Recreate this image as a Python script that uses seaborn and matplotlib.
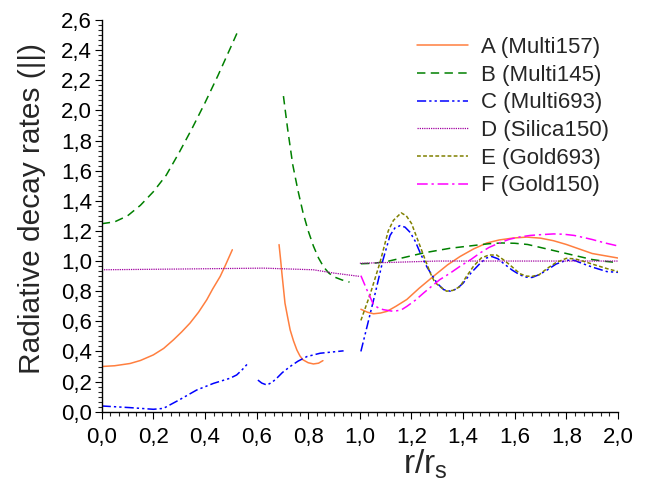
import numpy as np
import matplotlib
matplotlib.use("Agg")
import matplotlib.pyplot as plt
from matplotlib.ticker import MultipleLocator, AutoMinorLocator, FuncFormatter
import seaborn as sns

# ---------------- data ----------------
# A (Multi157) - three segments
a1_x = [0.0, 0.05, 0.11, 0.15, 0.2, 0.24, 0.278, 0.31, 0.342, 0.375, 0.407, 0.43, 0.459, 0.48, 0.506]
a1_y = [0.30, 0.305, 0.32, 0.34, 0.377, 0.42, 0.477, 0.53, 0.588, 0.66, 0.743, 0.815, 0.898, 0.975, 1.075]
a2_x = [0.687, 0.693, 0.698, 0.704, 0.71, 0.72, 0.73, 0.743, 0.756, 0.768, 0.78, 0.80, 0.82, 0.84, 0.857]
a2_y = [1.109, 1.01, 0.92, 0.82, 0.72, 0.63, 0.543, 0.47, 0.41, 0.37, 0.344, 0.325, 0.317, 0.322, 0.339]
a3_x = [1.004, 1.03, 1.053, 1.08, 1.105, 1.14, 1.182, 1.23, 1.286, 1.34, 1.388, 1.44, 1.492, 1.54,
        1.595, 1.647, 1.70, 1.75, 1.80, 1.85, 1.9, 1.95, 2.0]
a3_y = [0.68, 0.66, 0.65, 0.655, 0.666, 0.70, 0.745, 0.82, 0.90, 0.975, 1.03, 1.08, 1.12, 1.14,
        1.153, 1.159, 1.152, 1.135, 1.11, 1.08, 1.05, 1.035, 1.02]

# B (Multi145)
b1_x = [0.0, 0.05, 0.1, 0.15, 0.2, 0.25, 0.3, 0.35, 0.4, 0.45, 0.5, 0.526]
b1_y = [1.248, 1.26, 1.30, 1.37, 1.46, 1.57, 1.72, 1.88, 2.05, 2.23, 2.42, 2.52]
b2_x = [0.704, 0.72, 0.74, 0.76, 0.78, 0.80, 0.82, 0.84, 0.86, 0.88, 0.90, 0.93, 0.96]
b2_y = [2.095, 1.88, 1.64, 1.47, 1.32, 1.20, 1.10, 1.02, 0.96, 0.92, 0.895, 0.875, 0.86]
b3_x = [1.004, 1.05, 1.1, 1.15, 1.2, 1.25, 1.3, 1.35, 1.4, 1.45, 1.5, 1.55, 1.6, 1.65, 1.7,
        1.75, 1.8, 1.85, 1.9, 1.95, 2.0]
b3_y = [0.982, 0.985, 0.995, 1.015, 1.035, 1.055, 1.07, 1.085, 1.095, 1.105, 1.115, 1.12, 1.118,
        1.11, 1.09, 1.07, 1.05, 1.03, 1.01, 0.998, 0.99]

# C (Multi693)
c1_x = [0.0, 0.11, 0.2, 0.239, 0.30, 0.368, 0.433, 0.497, 0.523, 0.545, 0.566]
c1_y = [0.038, 0.027, 0.016, 0.022, 0.078, 0.144, 0.188, 0.222, 0.244, 0.28, 0.32]
c2_x = [0.605, 0.62, 0.64, 0.66, 0.678, 0.70, 0.73, 0.76, 0.795, 0.846, 0.937]
c2_y = [0.21, 0.19, 0.177, 0.195, 0.222, 0.26, 0.30, 0.335, 0.366, 0.388, 0.404]
c3_x = [1.004, 1.03, 1.06, 1.09, 1.117, 1.136, 1.156, 1.175, 1.195, 1.215, 1.234, 1.26, 1.299,
        1.325, 1.35, 1.375, 1.40, 1.43, 1.466, 1.49, 1.511, 1.535, 1.556, 1.59, 1.62, 1.645,
        1.667, 1.695, 1.725, 1.76, 1.8, 1.83, 1.86, 1.9, 1.957, 2.0]
c3_y = [0.40, 0.58, 0.79, 1.01, 1.17, 1.22, 1.235, 1.225, 1.19, 1.13, 1.053, 0.96, 0.853,
        0.81, 0.80, 0.815, 0.853, 0.92, 0.985, 1.02, 1.03, 1.015, 0.985, 0.94, 0.908, 0.893,
        0.891, 0.91, 0.94, 0.98, 1.005, 1.005, 0.985, 0.96, 0.93, 0.925]

# D (Silica150)
d1_x = [0.0, 0.3, 0.627, 0.82, 0.9, 1.0]
d1_y = [0.942, 0.947, 0.953, 0.942, 0.92, 0.898]
d2_x = [1.0, 1.1, 1.2, 1.3, 1.5, 2.0]
d2_y = [0.985, 0.99, 0.995, 1.0, 1.0, 1.0]

# E (Gold693)
e_x = [1.004, 1.04, 1.078, 1.11, 1.13, 1.16, 1.18, 1.2, 1.234, 1.255, 1.273, 1.29, 1.31, 1.336,
       1.36, 1.388, 1.41, 1.44, 1.47, 1.5, 1.53, 1.555, 1.58, 1.62, 1.645, 1.667, 1.695, 1.725,
       1.76, 1.8, 1.83, 1.85, 1.9, 1.957, 2.0]
e_y = [0.606, 0.78, 0.99, 1.2, 1.27, 1.32, 1.30, 1.25, 1.096, 1.0, 0.92, 0.86, 0.83, 0.80,
       0.805, 0.83, 0.89, 0.965, 1.02, 1.04, 1.04, 1.01, 0.976, 0.916, 0.9, 0.898, 0.91, 0.95,
       0.99, 1.018, 1.015, 1.007, 0.98, 0.95, 0.93]

# F (Gold150)
f_x = [1.004, 1.027, 1.053, 1.075, 1.092, 1.13, 1.16, 1.182, 1.215, 1.247, 1.28, 1.31, 1.35,
       1.388, 1.43, 1.466, 1.5, 1.54, 1.58, 1.62, 1.66, 1.7, 1.75, 1.79, 1.83, 1.87, 1.9, 1.95, 2.0]
f_y = [0.903, 0.81, 0.71, 0.685, 0.677, 0.666, 0.675, 0.699, 0.74, 0.788, 0.835, 0.877, 0.92,
       0.965, 1.01, 1.054, 1.09, 1.12, 1.145, 1.16, 1.17, 1.175, 1.18, 1.178, 1.17, 1.155,
       1.143, 1.12, 1.10]

labels = ["A (Multi157)", "B (Multi145)", "C (Multi693)", "D (Silica150)", "E (Gold693)", "F (Gold150)"]
x_ticks = [0.0, 0.2, 0.4, 0.6, 0.8, 1.0, 1.2, 1.4, 1.6, 1.8, 2.0]
y_ticks = [0.0, 0.2, 0.4, 0.6, 0.8, 1.0, 1.2, 1.4, 1.6, 1.8, 2.0, 2.2, 2.4, 2.6]

series = [
    (labels[0], [(a1_x, a1_y), (a2_x, a2_y), (a3_x, a3_y)], "#FF7F3F", "-", 1.1),
    (labels[1], [(b1_x, b1_y), (b2_x, b2_y), (b3_x, b3_y)], "#008000", (0, (5.5, 3.5)), 1.1),
    (labels[2], [(c1_x, c1_y), (c2_x, c2_y), (c3_x, c3_y)], "#0000FF", (0, (6, 2, 1.5, 2, 1.5, 2)), 1.1),
    (labels[3], [(d1_x, d1_y), (d2_x, d2_y)], "#A000A0", (0, (1, 0.8)), 0.9),
    (labels[4], [(e_x, e_y)], "#808000", (0, (2.5, 1.5)), 1.1),
    (labels[5], [(f_x, f_y)], "#FF00FF", (0, (7, 2.5, 1.5, 2.5)), 1.1),
]

# ---------------- style ----------------
sns.set_theme(style="ticks")
plt.rcParams["font.family"] = ["Liberation Sans", "DejaVu Sans"]
plt.rcParams["mathtext.fontset"] = "custom"
plt.rcParams["mathtext.rm"] = "Liberation Sans"

fig = plt.figure(figsize=(6.48, 4.91), dpi=100)
ax = fig.add_axes([101.7 / 648, 1 - 411.7 / 491, (618 - 101.7) / 648, (411.7 - 20) / 491])

handles = []
for name, segs, color, ls, lw in series:
    first = None
    for sx, sy in segs:
        n_before = len(ax.lines)
        sns.lineplot(x=sx, y=sy, ax=ax, color=color, linestyle=ls, linewidth=lw,
                     sort=False, estimator=None, legend=False)
        if first is None:
            first = ax.lines[n_before]
    handles.append(first)

ax.set_xlim(0, 2.0)
ax.set_ylim(0, 2.6)
ax.set_xticks(x_ticks)
ax.set_yticks(y_ticks)
fmt = FuncFormatter(lambda v, p: f"{v:.1f}".replace(".", ","))
ax.xaxis.set_major_formatter(fmt)
ax.yaxis.set_major_formatter(fmt)
ax.xaxis.set_minor_locator(AutoMinorLocator(6))
ax.yaxis.set_minor_locator(AutoMinorLocator(6))
ax.tick_params(which="major", direction="out", length=5, width=0.8, labelsize=16,
               colors="black")
ax.tick_params(axis="y", which="major", pad=2)
ax.tick_params(axis="x", which="major", pad=6)
ax.tick_params(which="minor", direction="out", length=3, width=0.8)

for side in ["top", "right"]:
    ax.spines[side].set_visible(False)
for side in ["left", "bottom"]:
    ax.spines[side].set_color("black")
    ax.spines[side].set_linewidth(1.0)

ax.set_ylabel("Radiative decay rates (||)", fontsize=21.5)
ax.yaxis.set_label_coords(-0.108, 0.52)
ax.set_xlabel(r"r/r$_\mathregular{s}$", fontsize=24)
ax.xaxis.set_label_coords(0.626, -0.09)

ax.legend(handles, labels, loc="upper left", bbox_to_anchor=(417 / 648, 1 - 37 / 491),
          bbox_transform=fig.transFigure, frameon=False, fontsize=16,
          handlelength=2.3, handletextpad=0.6, labelspacing=0.3, borderpad=0, borderaxespad=0)

fig.savefig("out.png", dpi=100)
